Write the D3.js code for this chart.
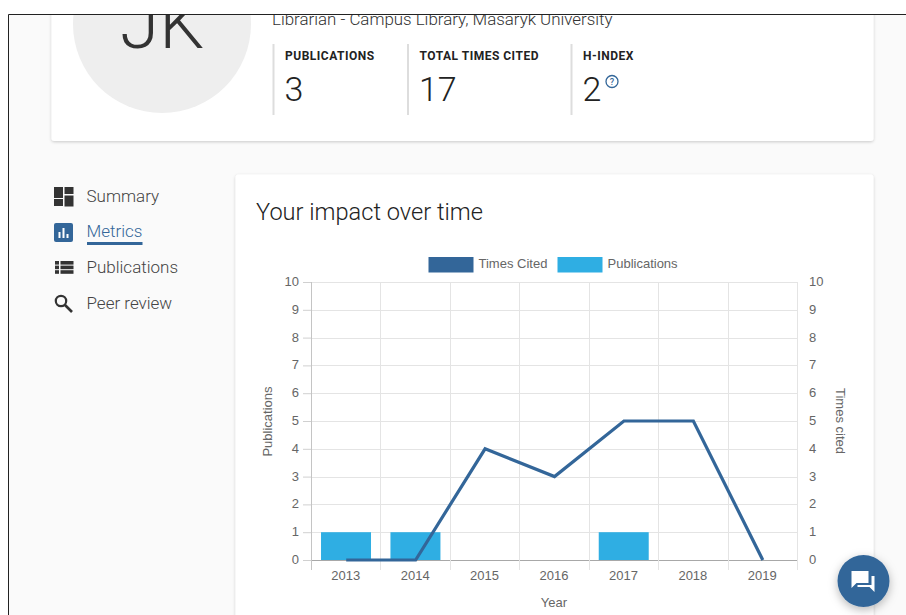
<!DOCTYPE html>
<html><head><meta charset="utf-8">
<script src="https://cdn.jsdelivr.net/npm/d3@7"></script>
<style>html,body{margin:0;padding:0;background:#fff;overflow:hidden}svg{display:block}</style>
</head><body><svg id="c" width="906" height="615"></svg>
<script>
const years = ["2013","2014","2015","2016","2017","2018","2019"];
const publications = [1,1,0,0,1,0,0];
const timesCited = [0,0,4,3,5,5,0];
const yTicks = [0,1,2,3,4,5,6,7,8,9,10];
const statLabels = ["PUBLICATIONS","TOTAL TIMES CITED","H-INDEX"];
const statValues = ["3","17","2"];
const navItems = ["Summary","Metrics","Publications","Peer review"];
const legendItems = ["Times Cited","Publications"];
const BLUE="#336699", SKY="#2FAEE3", UI="Roboto, sans-serif", CH="'Liberation Sans', Arial, sans-serif";

const svg=d3.select("#c");
const defs=svg.append("defs");
const f=defs.append("filter").attr("id","sh").attr("x","-10%").attr("y","-10%").attr("width","120%").attr("height","120%");
f.append("feDropShadow").attr("dx",0).attr("dy",1).attr("stdDeviation",1.5).attr("flood-color","#000").attr("flood-opacity",.2);
const f2=defs.append("filter").attr("id","sh2").attr("x","-30%").attr("y","-30%").attr("width","160%").attr("height","160%");
f2.append("feDropShadow").attr("dx",0).attr("dy",3).attr("stdDeviation",5).attr("flood-color","#000").attr("flood-opacity",.28);
defs.append("clipPath").attr("id","page").append("rect").attr("x",9).attr("y",15).attr("width",897).attr("height",600);

// window frame and page
svg.append("rect").attr("x",9).attr("y",15).attr("width",897).attr("height",600).attr("fill","#fafafa");
svg.append("path").attr("d","M8.5 615V14.5H906").attr("fill","none").attr("stroke","#222");
const page=svg.append("g").attr("clip-path","url(#page)");

// profile card
page.append("rect").attr("x",51.5).attr("y",-40).attr("width",822).attr("height",181).attr("rx",3).attr("fill","#fff").attr("filter","url(#sh)");
page.append("circle").attr("cx",162).attr("cy",24).attr("r",89).attr("fill","#eeeeee");
page.append("text").attr("x",162).attr("y",48).attr("text-anchor","middle").attr("font-family",UI).attr("font-weight",300).attr("font-size",71).attr("fill","#333").text("JK");
page.append("text").attr("x",272).attr("y",25).attr("font-family",UI).attr("font-weight",300).attr("font-size",16.9).attr("fill","#333").text("Librarian - Campus Library, Masaryk University");
const statX=[272.5,407,570.5];
statLabels.forEach((s,i)=>{
  const g=page.append("g").attr("transform",`translate(${statX[i]},0)`);
  g.append("rect").attr("x",0).attr("y",44).attr("width",2).attr("height",71).attr("fill","#ddd");
  g.append("text").attr("x",12.5).attr("y",60).attr("font-family",UI).attr("font-weight",700).attr("font-size",12).attr("letter-spacing",.5).attr("fill","#222").text(s);
  g.append("text").attr("x",12).attr("y",100.5).attr("font-family",UI).attr("font-weight",300).attr("font-size",34).attr("fill","#222").text(statValues[i]);
});
const q=page.append("g").attr("transform","translate(612,81.5)");
q.append("circle").attr("r",6).attr("fill","none").attr("stroke",BLUE).attr("stroke-width",1.3);
q.append("text").attr("y",3.2).attr("text-anchor","middle").attr("font-family",UI).attr("font-size",9).attr("font-weight",500).attr("fill",BLUE).text("?");

// side navigation
const navY=[196,231,267,303];
navItems.forEach((s,i)=>{
  page.append("text").attr("x",86.5).attr("y",navY[i]+6).attr("font-family",UI).attr("font-size",17).attr("font-weight",300).attr("fill",i==1?BLUE:"#444").text(s);
});
page.append("rect").attr("x",87).attr("y",242).attr("width",55.5).attr("height",3).attr("fill",BLUE);
const ic="#333";
[[54,187,9,11],[54,199,9,7],[64.5,187,9,7],[64.5,195.5,9,11]].forEach(r=>page.append("rect").attr("x",r[0]).attr("y",r[1]).attr("width",r[2]).attr("height",r[3]).attr("fill",ic));
page.append("rect").attr("x",54).attr("y",223).attr("width",19).attr("height",19).attr("rx",2).attr("fill",BLUE);
[[58.5,232,2,6],[62.5,228,2,10],[66.5,234,2,4]].forEach(r=>page.append("rect").attr("x",r[0]).attr("y",r[1]).attr("width",r[2]).attr("height",r[3]).attr("fill","#fff"));
[0,1,2].forEach(k=>{
  page.append("rect").attr("x",55).attr("y",261+k*4.6).attr("width",4).attr("height",3.6).attr("fill",ic);
  page.append("rect").attr("x",60.5).attr("y",261+k*4.6).attr("width",13).attr("height",3.6).attr("fill",ic);
});
page.append("circle").attr("cx",61).attr("cy",301).attr("r",5.2).attr("fill","none").attr("stroke",ic).attr("stroke-width",2.2);
page.append("line").attr("x1",65).attr("y1",305).attr("x2",72).attr("y2",312).attr("stroke",ic).attr("stroke-width",2.6);

// chart card
page.append("rect").attr("x",235.5).attr("y",174.5).attr("width",638).attr("height",480).attr("rx",3).attr("fill","#fff").attr("filter","url(#sh)");
page.append("text").attr("x",256).attr("y",220).attr("font-family",UI).attr("font-weight",300).attr("font-size",23.6).attr("fill","#222").text("Your impact over time");

// chart
const L=311,R=797,T=282,B=560,tick=8;
const x=d3.scaleBand().domain(years).range([L,R]);
const y=d3.scaleLinear().domain([0,10]).range([B,T]);
const chart=page.append("g");
const GRID="#e4e4e4", LAB="#666";
// vertical gridlines + ticks
d3.range(years.length+1).forEach(i=>{
  const px=Math.round(L+i*x.step())+.5;
  chart.append("line").attr("x1",px).attr("x2",px).attr("y1",T).attr("y2",B+tick+2).attr("stroke",i==0?"#c4c4c4":GRID);
});
// axes
const gl=chart.append("g").attr("transform",`translate(${L},0)`).call(d3.axisLeft(y).tickValues(yTicks).tickSize(tick).tickPadding(4));
const gr=chart.append("g").attr("transform",`translate(${R},0)`).call(d3.axisRight(y).tickValues(yTicks).tickSize(0).tickPadding(12));
const gb=chart.append("g").attr("transform",`translate(0,${B})`).call(d3.axisBottom(x).tickSize(0).tickPadding(11));
[gl,gr,gb].forEach(a=>{a.select(".domain").remove();a.selectAll("text").attr("font-family",CH).attr("font-size",13).attr("fill",LAB);});
gl.selectAll("text").attr("dy","0.27em");
gr.selectAll("text").attr("dy","0.27em");
gl.selectAll("line").attr("stroke","#d0d0d0");
// horizontal gridlines
chart.insert("g",":first-child").selectAll("line").data(yTicks).join("line")
  .attr("x1",L).attr("x2",R).attr("y1",d=>Math.round(y(d))+.5).attr("y2",d=>Math.round(y(d))+.5)
  .attr("stroke",d=>d==0?"#a8a8a8":GRID);
// bars
const bw=x.bandwidth()*.72;
chart.append("g").selectAll("rect").data(publications).join("rect")
  .attr("x",(d,i)=>x(years[i])+(x.step()-bw)/2+.3).attr("width",bw)
  .attr("y",d=>y(d)).attr("height",d=>B-y(d)).attr("fill",SKY);
// line
chart.append("path").datum(timesCited)
  .attr("d",d3.line().x((d,i)=>x(years[i])+x.bandwidth()/2+.5).y(d=>y(d)))
  .attr("fill","none").attr("stroke",BLUE).attr("stroke-width",3.2);
// axis titles
chart.append("text").attr("transform","translate(271.5,421.5) rotate(-90)").attr("text-anchor","middle").attr("font-family",CH).attr("font-size",13).attr("fill",LAB).text("Publications");
chart.append("text").attr("transform","translate(836,421) rotate(90)").attr("text-anchor","middle").attr("font-family",CH).attr("font-size",13).attr("fill",LAB).text("Times cited");
chart.append("text").attr("x",554).attr("y",607).attr("text-anchor","middle").attr("font-family",CH).attr("font-size",13).attr("fill",LAB).text("Year");
// legend
const legendX=[428.5,557.5],legendC=[BLUE,SKY];
legendItems.forEach((s,i)=>{
  chart.append("rect").attr("x",legendX[i]).attr("y",257).attr("width",45).attr("height",15.5).attr("fill",legendC[i]);
  chart.append("text").attr("x",legendX[i]+50).attr("y",268).attr("font-family",CH).attr("font-size",13).attr("fill",LAB).text(s);
});

// chat button
const cb=svg.append("g").attr("transform","translate(863.5,581)");
cb.append("circle").attr("r",26).attr("fill",BLUE).attr("filter","url(#sh2)");
cb.append("path").attr("d","M-11 -10H6V2H-6L-11 7Z").attr("fill","#fff").attr("transform","translate(-1,0)");
cb.append("path").attr("d","M8 -5H11V11L6 6H-6V4H8Z").attr("fill","#fff");
</script></body></html>
